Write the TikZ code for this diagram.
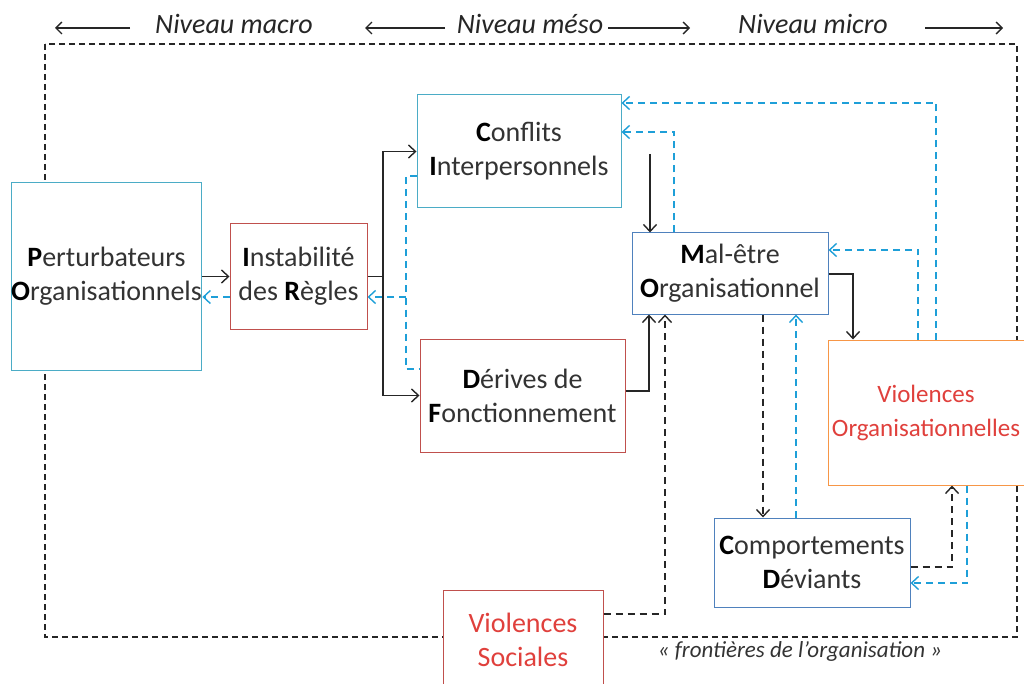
\documentclass[tikz,border=0pt]{standalone}
\usepackage{fontspec}
\setmainfont{Carlito}
\usetikzlibrary{arrows.meta,calc}
\definecolor{lblue}{HTML}{4BACC6}
\definecolor{mblue}{HTML}{4F81BD}
\definecolor{rbox}{HTML}{C0504D}
\definecolor{obox}{HTML}{F79646}
\definecolor{rtext}{HTML}{E0403C}
\definecolor{darr}{HTML}{1E9FD8}
\definecolor{txt}{HTML}{333333}
\begin{document}
\begin{tikzpicture}[x=1pt,y=-1pt,
  box/.style={draw,line width=1pt,fill=white,inner sep=0pt,align=center,text=txt,
    font=\fontsize{28}{34}\selectfont},
  tip/.style={-{Straight Barb[length=7pt,width=13pt,line width=1.4pt]}},
  sarr/.style={tip,line width=1.6pt,draw=black!85},
  barr/.style={tip,line width=1.6pt,draw=darr,dash pattern=on 7pt off 5pt},
  bline/.style={line width=1.6pt,draw=darr,dash pattern=on 7pt off 5pt},
  karr/.style={tip,line width=1.6pt,draw=black!85,dash pattern=on 7pt off 5pt},
  frame/.style={line width=1.3pt,draw=black!85,dash pattern=on 6pt off 4pt},
  harr/.style={-{Straight Barb[length=6pt,width=12pt,line width=1.3pt]},line width=1.4pt,draw=black!85},
  head/.style={font=\fontsize{28}{30}\selectfont\itshape,text=black!85,inner sep=0pt}
]
\useasboundingbox (0,0) rectangle (1024,684);
% frame
\draw[frame] (45,44) rectangle (1017,637);
% header
\node[head] (macro) at (234,24) {Niveau macro};
\node[head] (meso) at (530,24) {Niveau méso};
\node[head] (micro) at (813,24) {Niveau micro};
\coordinate (m1) at (55,28); \coordinate (m2) at (130,28);
\coordinate (s1) at (365,28); \coordinate (s2) at (445,28);
\coordinate (s3) at (608,28); \coordinate (s4) at (690,28);
\coordinate (u1) at (925,28); \coordinate (u2) at (1003,28);
\draw[harr] (m2) -- (m1);
\draw[harr] (s2) -- (s1);
\draw[harr] (s3) -- (s4);
\draw[harr] (u1) -- (u2);
% boxes
\node[box,draw=lblue,minimum width=187pt,minimum height=187pt] (pert) at (106.5,276.5)
  {\textbf{\color{black}P}erturbateurs\\\textbf{\color{black}O}rganisationnels};
\node[box,draw=rbox,minimum width=137pt,minimum height=105pt] (inst) at (298.5,276.5)
  {\textbf{\color{black}I}nstabilité\\des \textbf{\color{black}R}ègles};
\node[box,draw=lblue,minimum width=204pt,minimum height=113pt] (conf) at (519,151.5)
  {\textbf{\color{black}C}onflits\\\textbf{\color{black}I}nterpersonnels};
\node[box,draw=rbox,minimum width=205pt,minimum height=113pt] (der) at (522.5,395.5)
  {\textbf{\color{black}D}érives de\\\textbf{\color{black}F}onctionnement};
\node[box,draw=mblue,minimum width=196pt,minimum height=81pt] (mal) at (730,273.5)
  {\textbf{\color{black}M}al-être\\\textbf{\color{black}O}rganisationnel};
\node[box,draw=obox,text=rtext,text width=190pt,minimum width=196pt,minimum height=145pt,
  font=\fontsize{25}{34}\selectfont] (vo) at (926,412.5)
  {Violences\\Organisationnelles};
\draw[obox,line width=1pt] (vo.north east) -- (1030,340) (vo.south east) -- (1030,485);
\node[box,draw=mblue,minimum width=196pt,minimum height=89pt] (comp) at (812,562.5)
  {\textbf{\color{black}C}omportements\\\textbf{\color{black}D}éviants};
\node[box,draw=rbox,text=rtext,minimum width=160pt,minimum height=100pt] (vs) at (523,640)
  {Violences\\Sociales};
\node[font=\fontsize{23}{26}\selectfont\itshape,text=txt,inner sep=0pt] (front) at (800,651)
  {« frontières de l’organisation »};
% connectors
\draw[sarr] (pert.east) -- (inst.west);
\draw[barr] (inst.west |- 0,297) -- (pert.east |- 0,297);
\coordinate (br) at (383,276.5);
\draw[sarr] (inst.east) -- (br) |- (conf.west);
\draw[sarr] (br) |- (der.west);
\draw[bline] (conf.west |- 0,176) -- (406,176) -- (406,369) -- (der.west |- 0,369);
\coordinate (bj) at (406,297);
\draw[barr] (bj) -- (inst.east |- 0,297);
\coordinate (c1) at (650,154);
\draw[sarr] (c1) -- (c1 |- mal.north);
\draw[barr] (674,0 |- mal.north) |- (conf.east |- 0,132);
\draw[barr] (936,0 |- vo.north) |- (conf.east |- 0,103);
\draw[barr] (918,0 |- vo.north) |- (mal.east |- 0,250);
\draw[sarr] (mal.east |- 0,274) -| (853,0 |- vo.north);
\draw[sarr] (der.east |- 0,391) -| (649,0 |- mal.south);
\draw[karr] (vs.east |- 0,614) -| (665,0 |- mal.south);
\draw[karr] (763,0 |- mal.south) -- (763,0 |- comp.north);
\draw[barr] (796,0 |- comp.north) -- (796,0 |- mal.south);
\draw[karr] (comp.east |- 0,567) -| (952,0 |- vo.south);
\draw[barr] (967,0 |- vo.south) |- (comp.east |- 0,583);
\end{tikzpicture}
\end{document}
